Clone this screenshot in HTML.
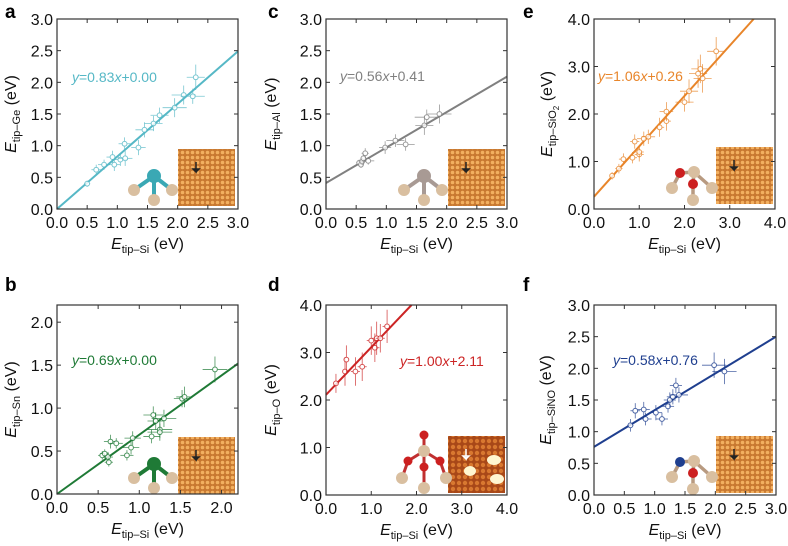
<!DOCTYPE html>
<html><head><meta charset="utf-8">
<style>
body{margin:0;background:#fff;}
svg{display:block;font-family:"Liberation Sans",Arial,sans-serif;}
</style></head>
<body>
<svg id="fig" width="788" height="546" viewBox="0 0 788 546" xmlns="http://www.w3.org/2000/svg">
<defs>
<pattern id="stm1" width="5" height="5" patternUnits="userSpaceOnUse"><rect width="5" height="5" fill="#c87830"/><circle cx="2.5" cy="2.5" r="1.8" fill="#f2b060"/></pattern>
<pattern id="stm2" width="6" height="6" patternUnits="userSpaceOnUse"><rect width="6" height="6" fill="#a84818"/><circle cx="3" cy="3" r="2.2" fill="#d87830"/></pattern>
</defs>
</svg>
<script>
// ---- data ----
const aX=[0.5,0.65,0.78,0.92,0.95,1.05,1.12,1.13,1.35,1.45,1.6,1.7,1.95,2.1,2.25,2.3];
const aY=[0.4,0.62,0.7,0.82,0.7,0.78,1.03,0.8,0.97,1.25,1.35,1.48,1.6,1.8,1.78,2.08];
const aXE=[0.05,0.08,0.1,0.1,0.1,0.12,0.1,0.12,0.12,0.15,0.15,0.15,0.2,0.2,0.2,0.15];
const aYE=[0.05,0.08,0.08,0.1,0.1,0.1,0.1,0.12,0.12,0.12,0.12,0.12,0.15,0.15,0.12,0.2];
const bX=[0.55,0.58,0.62,0.63,0.65,0.72,0.85,0.9,0.92,1.15,1.17,1.2,1.25,1.25,1.3,1.52,1.55,1.92];
const bY=[0.45,0.47,0.43,0.37,0.61,0.59,0.45,0.54,0.65,0.67,0.92,0.85,0.75,0.72,0.88,1.11,1.13,1.45];
const bXE=[0.05,0.05,0.06,0.05,0.08,0.08,0.08,0.1,0.1,0.1,0.12,0.1,0.15,0.15,0.15,0.1,0.1,0.15];
const bYE=[0.05,0.05,0.06,0.05,0.08,0.06,0.06,0.08,0.08,0.08,0.1,0.1,0.1,0.1,0.1,0.1,0.12,0.15];
const cX=[0.55,0.58,0.6,0.62,0.65,0.7,0.98,1.15,1.32,1.63,1.67,1.88];
const cY=[0.73,0.7,0.75,0.8,0.88,0.76,0.97,1.08,1.02,1.32,1.45,1.5];
const cXE=[0.05,0.05,0.06,0.05,0.06,0.1,0.1,0.15,0.15,0.15,0.2,0.2];
const cYE=[0.05,0.05,0.06,0.08,0.08,0.06,0.1,0.1,0.1,0.15,0.12,0.15];
const dX=[0.22,0.42,0.45,0.65,0.8,1.0,1.08,1.12,1.2,1.35];
const dY=[2.35,2.6,2.85,2.6,2.7,3.25,3.1,3.3,3.3,3.55];
const dXE=[0.05,0.05,0.05,0.1,0.1,0.1,0.1,0.1,0.1,0.1];
const dYE=[0.2,0.3,0.3,0.3,0.3,0.3,0.3,0.35,0.3,0.35];
const eX=[0.4,0.55,0.65,0.85,0.9,1.0,1.0,1.1,1.2,1.45,1.6,1.6,2.0,2.1,2.3,2.35,2.4,2.7];
const eY=[0.7,0.85,1.05,1.08,1.42,1.15,1.2,1.48,1.52,1.72,1.85,2.05,2.25,2.48,2.85,2.95,2.75,3.32];
const eXE=[0.05,0.08,0.1,0.1,0.1,0.1,0.1,0.15,0.15,0.1,0.1,0.15,0.2,0.2,0.2,0.2,0.2,0.2];
const eYE=[0.08,0.1,0.12,0.12,0.15,0.15,0.12,0.15,0.15,0.2,0.2,0.2,0.2,0.25,0.3,0.3,0.3,0.3];
const fX=[0.6,0.68,0.82,0.85,1.02,1.12,1.22,1.25,1.3,1.35,1.4,1.98,2.15];
const fY=[1.1,1.33,1.35,1.2,1.3,1.2,1.4,1.5,1.55,1.73,1.58,2.05,1.95];
const fXE=[0.05,0.08,0.1,0.1,0.1,0.1,0.1,0.1,0.1,0.1,0.15,0.2,0.2];
const fYE=[0.1,0.12,0.12,0.1,0.12,0.1,0.1,0.12,0.12,0.12,0.12,0.2,0.2];
const slopes=[0.83,0.69,0.56,1.00,1.06,0.58];
const intercepts=[0.00,0.00,0.41,2.11,0.26,0.76];
const eqLabels=["y=0.83x+0.00","y=0.69x+0.00","y=0.56x+0.41","y=1.00x+2.11","y=1.06x+0.26","y=0.58x+0.76"];
const aTicks=["0.0","0.5","1.0","1.5","2.0","2.5","3.0"];
const bTicks=["0.0","0.5","1.0","1.5","2.0"];
const dTicks=["0.0","1.0","2.0","3.0","4.0"];

const NS="http://www.w3.org/2000/svg";
const svg=document.getElementById('fig');
function mk(tag,attrs,parent){const e=document.createElementNS(NS,tag);for(const k in attrs)e.setAttribute(k,attrs[k]);(parent||svg).appendChild(e);return e;}

const panels=[
 {k:'a',L:57,T:19,R:238,B:209,xmax:3,ymax:3,xt:aTicks,yt:aTicks,step:0.5,X:aX,Y:aY,XE:aXE,YE:aYE,col:'#56b8c6',sub:'tip–Ge',eq:[72,82],lab:[5,18],yl:10,ins:[178,149],mol:'#3aa8b4',mt:'t'},
 {k:'b',L:57,T:305,R:238,B:494,xmax:2.2,ymax:2.2,xt:bTicks,yt:bTicks,step:0.5,X:bX,Y:bY,XE:bXE,YE:bYE,col:'#1f7a36',sub:'tip–Sn',eq:[72,365],lab:[5,291],yl:10,ins:[178,437],mol:'#1f7a36',mt:'t'},
 {k:'c',L:326,T:19,R:507,B:209,xmax:3,ymax:3,xt:aTicks,yt:aTicks,step:0.5,X:cX,Y:cY,XE:cXE,YE:cYE,col:'#808080',sub:'tip–Al',eq:[340,81],lab:[268,18],yl:270,ins:[448,149],mol:'#a89a94',mt:'t'},
 {k:'d',L:326,T:305,R:507,B:495,xmax:4,ymax:4,xt:dTicks,yt:dTicks,step:1,X:dX,Y:dY,XE:dXE,YE:dYE,col:'#cc2424',sub:'tip–O',eq:[400,366],lab:[268,291],yl:270,ins:[448,436],mol:'#cc2020',mt:'o'},
 {k:'e',L:594,T:19,R:775,B:209,xmax:4,ymax:4,xt:dTicks,yt:dTicks,step:1,X:eX,Y:eY,XE:eXE,YE:eYE,col:'#e8852a',sub:'tip–SiO',sub2:'2',eq:[598,81],lab:[523,18],yl:546,ins:[716,147],mol:'#cc2020',mt:'s'},
 {k:'f',L:594,T:305,R:776,B:495,xmax:3,ymax:3,xt:aTicks,yt:aTicks,step:0.5,X:fX,Y:fY,XE:fXE,YE:fYE,col:'#1f3f8f',sub:'tip–SiNO',eq:[613,365],lab:[523,291],yl:545,ins:[716,436],mol:'#1f3f8f',mt:'n'}
];

panels.forEach((p,pi)=>{
  const g=mk('g',{});
  
  
  const sx=v=>p.L+(p.R-p.L)*v/p.xmax;
  const sy=v=>p.B-(p.B-p.T)*v/p.ymax;
  const lb=mk('text',{x:p.lab[0],y:p.lab[1],'font-size':19,'font-weight':'bold',fill:'#000'},g);
  lb.textContent=p.k;
  
  
  const ins=mk('rect',{x:p.ins[0],y:p.ins[1],width:57,height:57,fill:p.k==='d'?'url(#stm2)':'url(#stm1)'},g);
  
  
  if(p.k==='d'){mk('ellipse',{cx:p.ins[0]+22,cy:p.ins[1]+35,rx:6,ry:5,fill:'#fff6d0'},g);mk('ellipse',{cx:p.ins[0]+46,cy:p.ins[1]+24,rx:7,ry:5,fill:'#fff6d0'},g);mk('ellipse',{cx:p.ins[0]+49,cy:p.ins[1]+43,rx:7,ry:5,fill:'#fff6d0'},g);}
  mk('path',{d:`M${p.ins[0]+18},${p.ins[1]+13} v10 l-3,-3 h6 l-3,3`,stroke:p.k==='d'?'#fff':'#222','stroke-width':1.5,fill:'#222'},g);
  const mg=mk('g',{},g);
  
  
  const cx=p.ins[0]-24, cy=p.ins[1]+27, tan='#d9bfa0';
  if(p.mt==='o'){
    const c=[cx,cy-12];
    [[cx,cy-28],[cx-16,cy-2],[cx+16,cy-2],[cx,cy+4]].forEach(b=>mk('line',{x1:c[0],y1:c[1],x2:b[0],y2:b[1],stroke:'#c03030','stroke-width':3},mg));
    [[cx-16,cy-2,cx-22,cy+15],[cx+16,cy-2,cx+22,cy+15],[cx,cy+4,cx,cy+25]].forEach(s=>mk('line',{x1:s[0],y1:s[1],x2:s[2],y2:s[3],stroke:'#c03030','stroke-width':3},mg));
    mk('circle',{cx:c[0],cy:c[1],r:6,fill:tan},mg);
    [[cx,cy-28],[cx-16,cy-2],[cx+16,cy-2],[cx,cy+4]].forEach(b=>mk('circle',{cx:b[0],cy:b[1],r:4.5,fill:p.mol},mg));
    [[cx-22,cy+15],[cx+22,cy+15],[cx,cy+25]].forEach(b=>mk('circle',{cx:b[0],cy:b[1],r:6,fill:tan},mg));
  } else {
    const bs=[[cx-20,cy+14],[cx+18,cy+14],[cx,cy+24]];
    if(p.mt==='t'){
      bs.forEach(b=>mk('line',{x1:cx,y1:cy,x2:b[0],y2:b[1],stroke:p.mol,'stroke-width':4},mg));
      bs.forEach(b=>mk('circle',{cx:b[0],cy:b[1],r:6,fill:tan},mg));
      mk('circle',{cx:cx,cy:cy,r:7,fill:p.mol},mg);
    } else {
      const si=[cx+2,cy-2], a1=[cx-12,cy-1], a2=[cx+1,cy+10];
      [[a1,[cx-20,cy+14]],[a2,[cx+1,cy+26]],[si,[cx+20,cy+14]],[si,a1],[si,a2]].forEach(s=>mk('line',{x1:s[0][0],y1:s[0][1],x2:s[1][0],y2:s[1][1],stroke:'#b89a80','stroke-width':3.5},mg));
      mk('circle',{cx:si[0],cy:si[1],r:6,fill:tan},mg);
      [[cx-20,cy+14],[cx+1,cy+26],[cx+20,cy+14]].forEach(b=>mk('circle',{cx:b[0],cy:b[1],r:6,fill:tan},mg));
      mk('circle',{cx:a1[0],cy:a1[1],r:5,fill:p.mt==='n'?'#1f3f8f':'#cc2020'},mg);
      mk('circle',{cx:a2[0],cy:a2[1],r:5,fill:'#cc2020'},mg);
    }
  }
  const s=slopes[pi], b0=intercepts[pi];
  let x2=p.xmax, y2=s*x2+b0;
  if(y2>p.ymax){y2=p.ymax;x2=(p.ymax-b0)/s;}
  const fl=mk('line',{x1:sx(0),y1:sy(b0),x2:sx(x2),y2:sy(y2),stroke:p.col,'stroke-width':2},g);
  
  
  p.X.forEach((xv,i)=>{
    const yv=p.Y[i];
    const pg=mk('g',{stroke:p.col,'stroke-width':0.8,opacity:0.8},g);
    
    
    mk('line',{x1:sx(xv-p.XE[i]),y1:sy(yv),x2:sx(xv+p.XE[i]),y2:sy(yv)},pg);
    mk('line',{x1:sx(xv),y1:sy(yv-p.YE[i]),x2:sx(xv),y2:sy(yv+p.YE[i])},pg);
    mk('circle',{cx:sx(xv),cy:sy(yv),r:2.4,fill:'#fff','stroke-width':1},pg);
  });
  const eq=mk('text',{x:p.eq[0],y:p.eq[1],'font-size':14,fill:p.col},g);
  
  
  const parts=eqLabels[pi].split(/(y|x)/);
  parts.forEach(t=>{if(!t)return;const ts=mk('tspan',{},eq);if(t==='y'||t==='x')ts.setAttribute('font-style','italic');ts.textContent=t;});
  const fr=mk('rect',{x:p.L,y:p.T,width:p.R-p.L,height:p.B-p.T,fill:'none',stroke:'#333','stroke-width':1.2},g);
  
  
  p.xt.forEach((t,i)=>{
    const v=i*p.step, X=sx(v);
    mk('line',{x1:X,y1:p.B,x2:X,y2:p.B-4,stroke:'#333'},g);
    mk('line',{x1:X,y1:p.T,x2:X,y2:p.T+4,stroke:'#333'},g);
    const tx=mk('text',{x:X,y:p.B+19,'font-size':16,'text-anchor':'middle',fill:'#111'},g);
    tx.textContent=t;
    
    
  });
  p.yt.forEach((t,i)=>{
    const v=i*p.step, Y=sy(v);
    mk('line',{x1:p.L,y1:Y,x2:p.L+4,y2:Y,stroke:'#333'},g);
    mk('line',{x1:p.R,y1:Y,x2:p.R-4,y2:Y,stroke:'#333'},g);
    const ty=mk('text',{x:p.L-4,y:Y+6,'font-size':16,'text-anchor':'end',fill:'#111'},g);
    ty.textContent=t;
    
    
  });
  const xt=mk('text',{x:(p.L+p.R)/2,y:p.B+40,'font-size':16,'text-anchor':'middle',fill:'#111'},g);
  
  
  let ts=mk('tspan',{'font-style':'italic'},xt);ts.textContent='E';
  ts=mk('tspan',{'font-size':11,dy:4},xt);ts.textContent='tip–Si';
  ts=mk('tspan',{dy:-4},xt);ts.textContent=' (eV)';
  const yt=mk('text',{x:0,y:0,'font-size':16,'text-anchor':'middle',fill:'#111',transform:`translate(${p.yl+6},${(p.T+p.B)/2}) rotate(-90)`},g);
  
  
  ts=mk('tspan',{'font-style':'italic'},yt);ts.textContent='E';
  ts=mk('tspan',{'font-size':11,dy:4},yt);ts.textContent=p.sub;
  if(p.sub2){ts=mk('tspan',{'font-size':8,dy:3},yt);ts.textContent=p.sub2;ts=mk('tspan',{dy:-7},yt);ts.textContent=' (eV)';}
  else{ts=mk('tspan',{dy:-4},yt);ts.textContent=' (eV)';}
});
</script>
</body></html>
